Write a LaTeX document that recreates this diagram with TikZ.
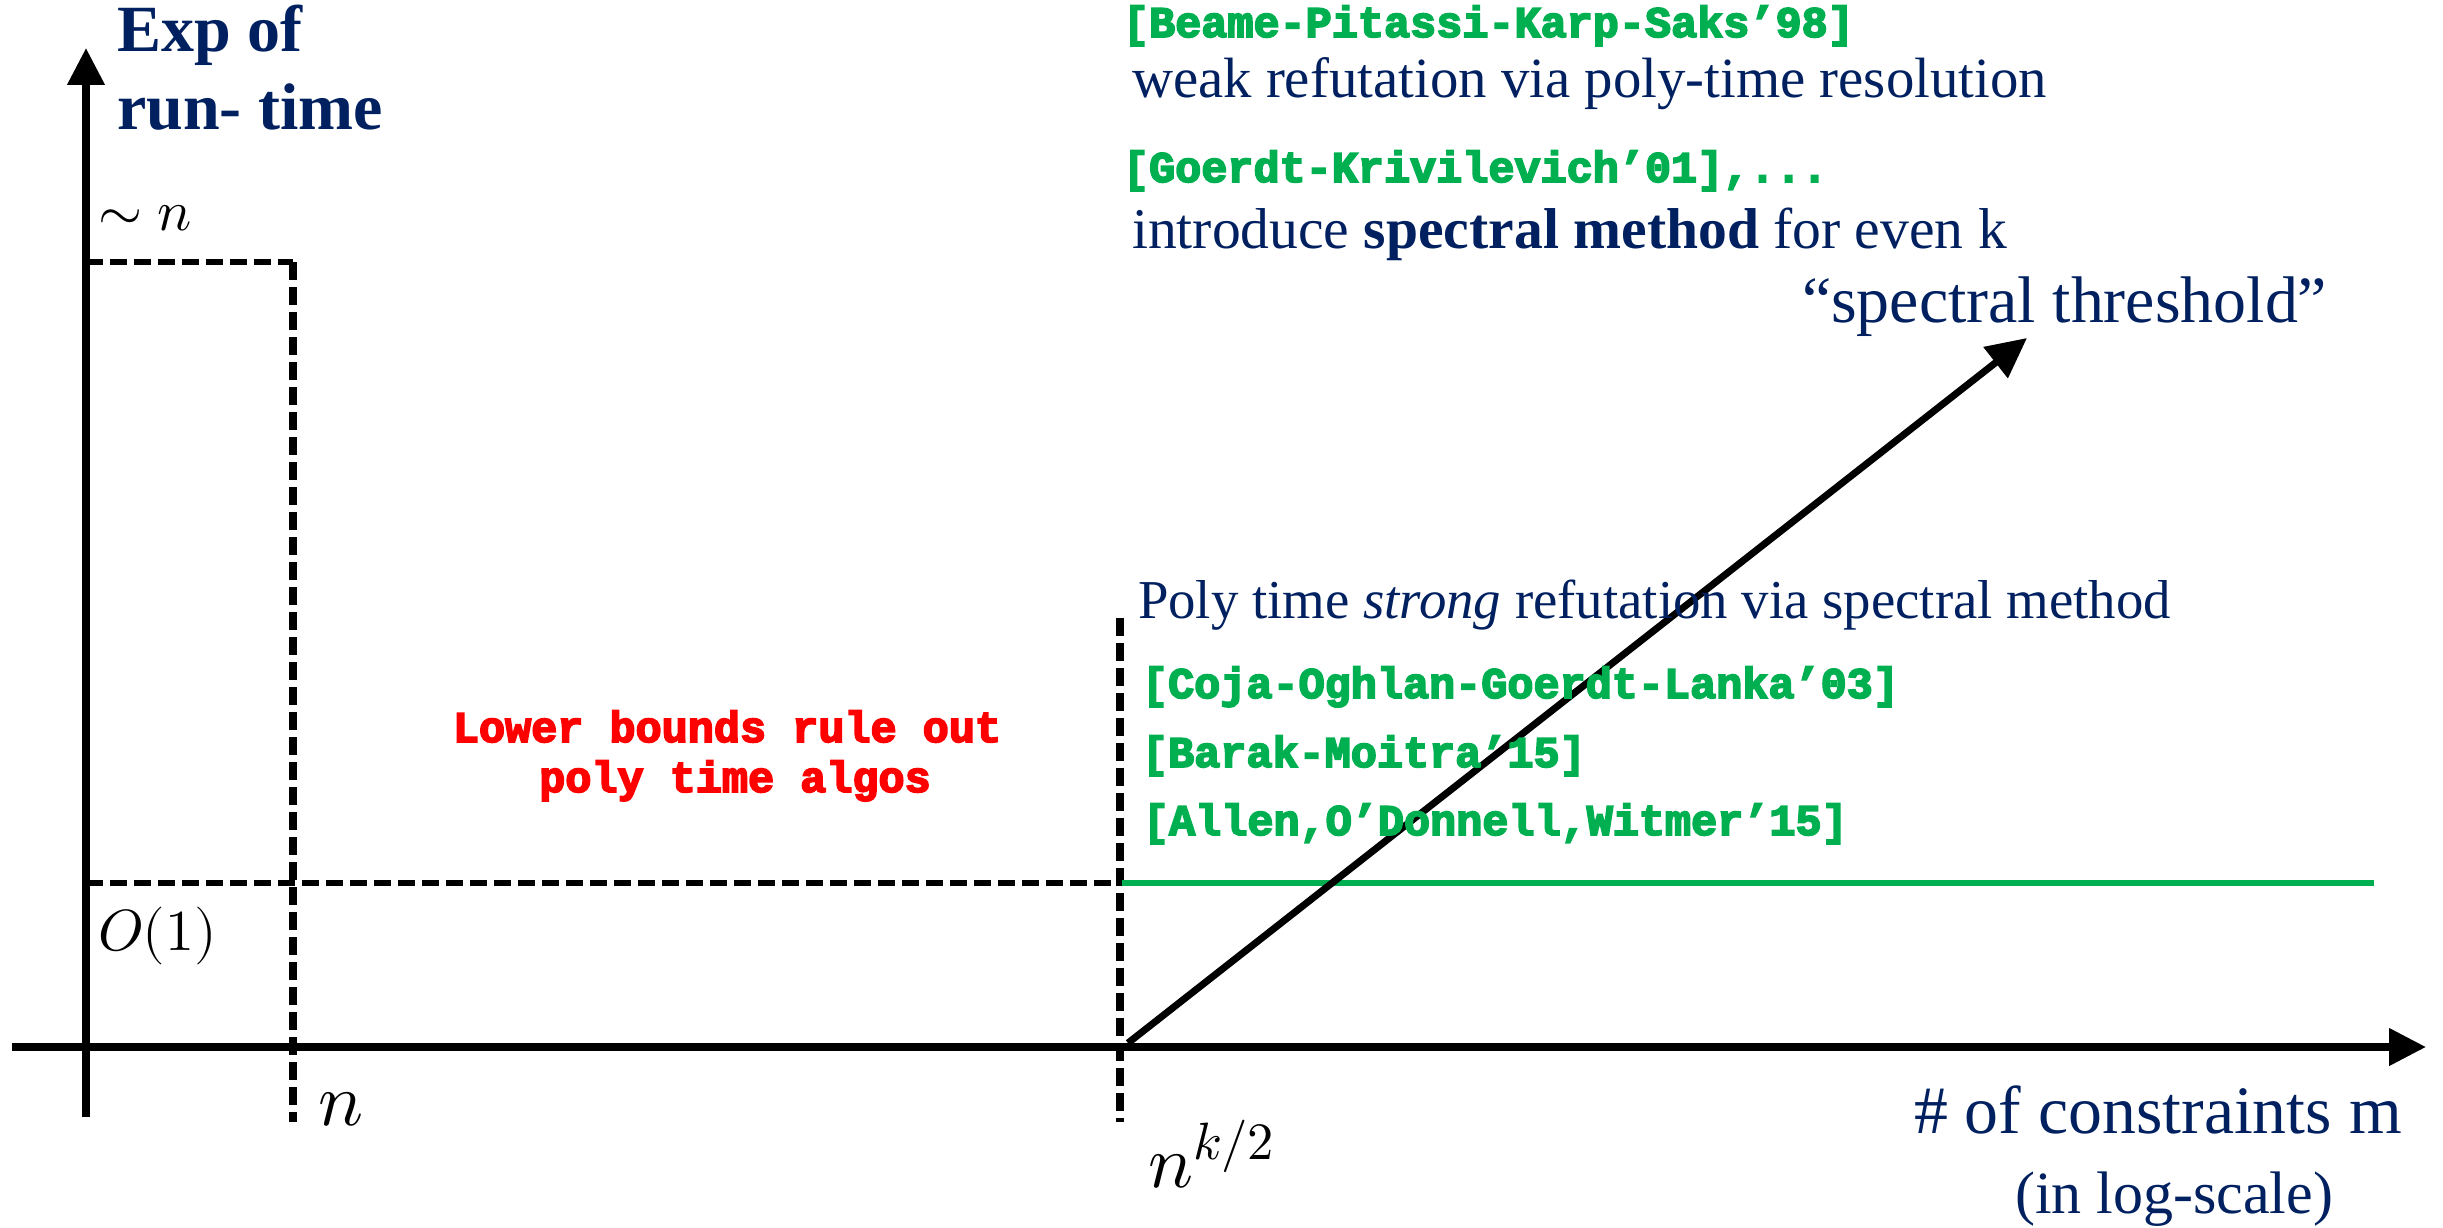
\documentclass[tikz,border=0pt]{standalone}
\usepackage{fontspec}
\usepackage{unicode-math}
\setmainfont{Liberation Serif}
\setmathfont{Latin Modern Math}
\newfontfamily\slab[BoldFeatures={FakeBold=4}]{Liberation Mono}
\usetikzlibrary{arrows.meta}
\definecolor{navy}{RGB}{0,32,96}
\definecolor{refgreen}{RGB}{0,176,80}
\definecolor{redtxt}{RGB}{255,0,0}
\tikzset{
  axisline/.style={line width=7.5pt, -{Triangle[length=37pt,width=36pt]}},
  hdash/.style={line width=6.5pt, dash pattern=on 17pt off 7pt},
  vdash/.style={line width=8pt, dash pattern=on 18pt off 7pt},
  lbl/.style={anchor=base west, inner sep=0pt, outer sep=0pt},
  reftxt/.style={lbl, text=refgreen, font=\slab\bfseries\fontsize{43.5}{50}\selectfont},
  navytxt/.style={lbl, text=navy},
}
\begin{document}
\begin{tikzpicture}[x=1pt,y=-1pt]
\useasboundingbox (0,0) rectangle (2443,1228);
% coordinates
\coordinate (xl) at (12,1047);
\coordinate (xr) at (2426,1047);
\coordinate (yb) at (86,1117);
\coordinate (yt) at (86,48);
\coordinate (hn1) at (86,262);
\coordinate (hn2) at (293,262);
\coordinate (vn2) at (293,1122);
\coordinate (ho1) at (86,883);
\coordinate (ho2) at (1122,883);
\coordinate (gend) at (2374,883);
\coordinate (vk1) at (1120,618);
\coordinate (vk2) at (1120,1122);
\coordinate (dstart) at (1128,1043);
\coordinate (dtip) at (2027,338);
% dashed lines
\draw[hdash] (hn1) -- (hn2);
\draw[vdash] (hn2) -- (vn2);
\draw[hdash] (ho1) -- (ho2);
\draw[vdash] (vk1) -- (vk2);
\draw[refgreen, line width=5.5pt] (ho2) -- (gend);
% axes
\draw[axisline] (xl) -- (xr);
\draw[axisline] (yb) -- (yt);
% diagonal arrow
\draw[line width=7pt, -{Triangle[length=40pt,width=38pt]}] (dstart) -- (dtip);
% axis labels
\node[navytxt, font=\bfseries\fontsize{66}{78}\selectfont] (exp1) at (117,52) {Exp of};
\node[navytxt, font=\bfseries\fontsize{66}{78}\selectfont] (exp2) at (117,130) {run- time};
\node[navytxt, font=\fontsize{67.8}{78}\selectfont] (xlab1) at (1914,1133) {\# of constraints m};
\node[navytxt, font=\fontsize{60}{70}\selectfont] (xlab2) at (2015,1213) {(in log-scale)};
% math labels
\node[lbl, font=\fontsize{57}{68}\selectfont] (simn) at (98,230) {$\sim n$};
\node[lbl, font=\fontsize{58}{70}\selectfont] (o1) at (98,950) {$O(1)$};
\node[lbl, font=\fontsize{75}{85}\selectfont] (nlab) at (318,1125) {$n$};
\node[lbl, font=\fontsize{75}{85}\selectfont] (nk) at (1148,1187) {$n^{k/2}$};
% references (top)
\node[reftxt] (beame) at (1123,37) {[Beame-Pitassi-Karp-Saks’98]};
\node[navytxt, font=\fontsize{56.8}{66}\selectfont] (weak) at (1132,98) {weak refutation via poly-time resolution};
\node[reftxt] (goerdt) at (1123,182) {[Goerdt-Krivilevich’01],...};
\node[navytxt, font=\fontsize{57.6}{66}\selectfont] (intro) at (1132,248) {introduce \textbf{spectral method} for even k};
\node[navytxt, font=\fontsize{65.9}{76}\selectfont] (thresh) at (1802,322) {“spectral threshold”};
% references (middle)
\node[navytxt, font=\fontsize{54.8}{64}\selectfont] (poly) at (1138,618) {Poly time \textit{strong} refutation via spectral method};
\node[reftxt] (coja) at (1142,698) {[Coja-Oghlan-Goerdt-Lanka’03]};
\node[reftxt] (barak) at (1142,767) {[Barak-Moitra’15]};
\node[reftxt] (allen) at (1143,835) {[Allen,O’Donnell,Witmer’15]};
% lower bounds
\node[anchor=base, inner sep=0pt, text=redtxt, font=\slab\bfseries\fontsize{43.5}{50}\selectfont] (lb1) at (727,742) {Lower bounds rule out};
\node[anchor=base, inner sep=0pt, text=redtxt, font=\slab\bfseries\fontsize{43.5}{50}\selectfont] (lb2) at (735,792) {poly time algos};
\end{tikzpicture}
\end{document}
